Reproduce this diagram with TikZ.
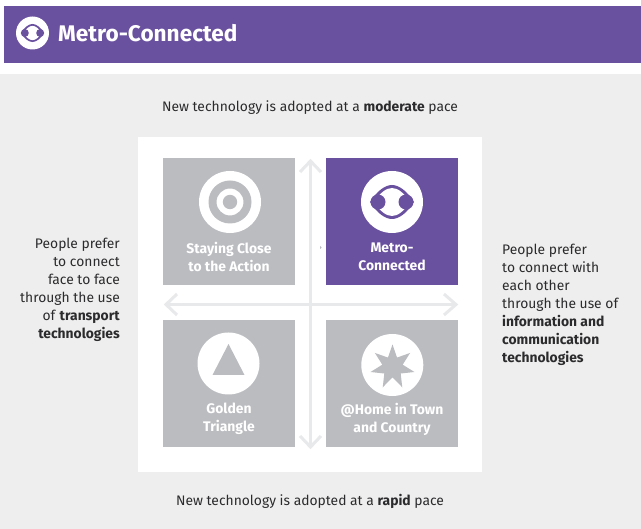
\documentclass[tikz,border=0pt]{standalone}
\usepackage{fontspec}
\usetikzlibrary{shapes.geometric}
\setmainfont{Fira Sans}
\definecolor{purp}{HTML}{6A51A0}
\definecolor{bgg}{HTML}{EEEEEE}
\definecolor{sq}{HTML}{BBBCC0}
\definecolor{arr}{HTML}{E8E9EB}
\definecolor{txt}{HTML}{2B2B2D}
\tikzset{
  tile/.style={minimum width=132pt,minimum height=127pt,inner sep=0pt,outer sep=0pt,fill=sq},
  disc/.style={circle,fill=white,minimum size=62pt,inner sep=0pt},
  tilelabel/.style={text=white,font=\fontsize{13.9}{18}\selectfont\bfseries,align=center,inner sep=0pt},
  body/.style={text=txt,font=\fontsize{13.85}{18}\selectfont,inner sep=0pt},
  axisarrow/.style={draw=arr,line width=3pt,line cap=butt}
}
\begin{document}
\begin{tikzpicture}[x=1pt,y=-1pt]
\useasboundingbox (0,0) rectangle (641,529);
\fill[white] (0,0) rectangle (641,529);
\fill[purp] (4,6) rectangle (641,63);
\fill[bgg] (0,74) rectangle (641,529);
\fill[white] (138,137) rectangle (482,472);
% header icon
\node[circle,fill=white,minimum size=33pt,inner sep=0pt] (hicon) at (32.5,33) {};
\begin{scope}[shift={(32.5,33)},scale=0.53]
\fill[purp] (-22,0) .. controls (-15,-11) and (-7,-17) .. (0,-17) .. controls (7,-17) and (15,-11) .. (22,0) .. controls (15,11) and (7,17) .. (0,17) .. controls (-7,17) and (-15,11) .. (-22,0) -- cycle;
\fill[white] (-17,0) .. controls (-12,-8) and (-6,-13.5) .. (0,-13.5) .. controls (6,-13.5) and (12,-8) .. (17,0) .. controls (12,8) and (6,13.5) .. (0,13.5) .. controls (-6,13.5) and (-12,8) .. (-17,0) -- cycle;
\fill[purp] (-14.5,0) circle[radius=7.5];
\fill[purp] (14.5,0) circle[radius=7.5];
\end{scope}
\node[anchor=west,text=white,inner sep=0pt,font=\fontsize{22.6}{24}\selectfont\bfseries] (htitle) at (58,33) {Metro-Connected};
% axes
\coordinate (vt) at (310.5,160);
\coordinate (vb) at (310.5,447);
\coordinate (hl) at (165,304.5);
\coordinate (hr) at (457,304.5);
\draw[axisarrow] (vt) -- (vb);
\draw[axisarrow] (hl) -- (hr);
\draw[axisarrow,line join=miter] (300,172) -- (310.5,161) -- (321,172);
\draw[axisarrow,line join=miter] (300,436) -- (310.5,447) -- (321,436);
\draw[axisarrow,line join=miter] (177,294) -- (166,304.5) -- (177,315);
\draw[axisarrow,line join=miter] (444,294) -- (456,304.5) -- (444,315);
\fill[sq] (320,246) -- (321.6,247.5) -- (320,249) -- cycle;
% tiles
\node[tile] (t1) at (229,221.5) {};
\node[tile,fill=purp] (t2) at (392,221.5) {};
\node[tile] (t3) at (229,383.5) {};
\node[tile] (t4) at (392,383.5) {};
\node[disc] (d1) at (230,202) {};
\node[disc] (d2) at (392,202) {};
\node[disc] (d3) at (228.5,363.5) {};
\node[disc] (d4) at (392.3,365) {};
% target
\fill[sq,even odd rule] (230,202) circle[radius=21.5] (230,202) circle[radius=13.5];
\fill[sq] (230,202) circle[radius=7.2];
% metro
\begin{scope}[shift={(392,202)}]
\fill[purp] (-22,0) .. controls (-15,-11) and (-7,-17) .. (0,-17) .. controls (7,-17) and (15,-11) .. (22,0) .. controls (15,11) and (7,17) .. (0,17) .. controls (-7,17) and (-15,11) .. (-22,0) -- cycle;
\fill[white] (-18,0) .. controls (-12,-9) and (-6,-14) .. (0,-14) .. controls (6,-14) and (12,-9) .. (18,0) .. controls (12,9) and (6,14) .. (0,14) .. controls (-6,14) and (-12,9) .. (-18,0) -- cycle;
\fill[purp] (-14,0) circle[radius=7.5];
\fill[purp] (14,0) circle[radius=7.5];
\end{scope}
% triangle
\fill[sq] (228.5,344) -- (244.5,375) -- (212.5,375) -- cycle;
% star
\node[star,star points=7,minimum size=45pt,star point ratio=2.15,fill=sq,inner sep=0pt] (st) at (392.5,367) {};
% tile labels
\node[tilelabel] (l1) at (229,257) {Staying Close\\to the Action};
\node[tilelabel] (l2) at (392,257) {Metro-\\Connected};
\node[tilelabel] (l3) at (229,419) {Golden\\Triangle};
\node[tilelabel] (l4) at (392,419) {@Home in Town\\and Country};
% side texts
\node[body,anchor=base] (top) at (310,112) {New technology is adopted at a \textbf{moderate} pace};
\node[body,anchor=base] (bot) at (310,506) {New technology is adopted at a \textbf{rapid} pace};
\node[body,align=right,anchor=north east] (left) at (120,238) {People prefer\\to connect\\face to face\\through the use\\of \textbf{transport}\\\textbf{technologies}};
\node[body,align=left,anchor=north west] (right) at (502,244) {People prefer\\to connect with\\each other\\through the use of\\\textbf{information and}\\\textbf{communication}\\\textbf{technologies}};
\end{tikzpicture}
\end{document}
